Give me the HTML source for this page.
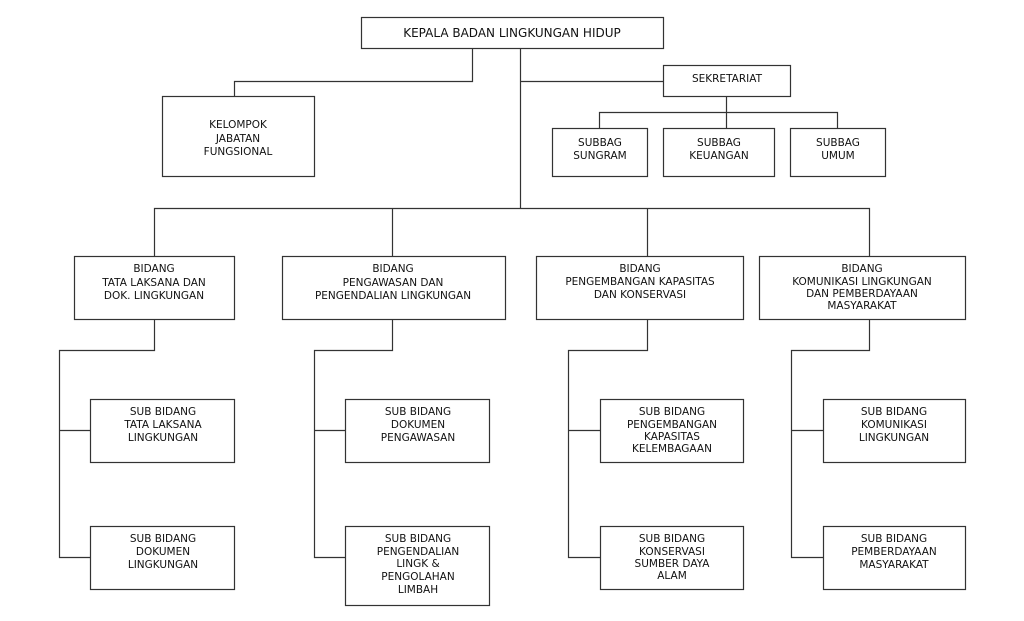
<!DOCTYPE html>
<html><head><style>
html,body{margin:0;padding:0;background:#fff;}
svg{display:block;}
text{font-family:"DejaVu Sans","Liberation Sans",sans-serif;font-size:10.5px;fill:#111;text-anchor:middle;}
.big{font-size:12px;}
</style></head><body>
<svg width="1024" height="621" viewBox="0 0 1024 621">
<g fill="#fff" stroke="#333" stroke-width="1.2">
<rect x="361.5" y="17.5" width="302" height="31"/>
<rect x="162.5" y="96.5" width="152" height="80"/>
<rect x="663.5" y="65.5" width="127" height="31"/>
<rect x="552.5" y="128.5" width="95" height="48"/>
<rect x="663.5" y="128.5" width="111" height="48"/>
<rect x="790.5" y="128.5" width="95" height="48"/>
<rect x="74.5" y="256.5" width="160" height="63"/>
<rect x="282.5" y="256.5" width="223" height="63"/>
<rect x="536.5" y="256.5" width="207" height="63"/>
<rect x="759.5" y="256.5" width="206" height="63"/>
<rect x="90.5" y="399.5" width="144" height="63"/>
<rect x="90.5" y="526.5" width="144" height="63"/>
<rect x="345.5" y="399.5" width="144" height="63"/>
<rect x="345.5" y="526.5" width="144" height="79"/>
<rect x="600.5" y="399.5" width="143" height="63"/>
<rect x="600.5" y="526.5" width="143" height="63"/>
<rect x="823.5" y="399.5" width="142" height="63"/>
<rect x="823.5" y="526.5" width="142" height="63"/>
</g>
<g fill="none" stroke="#333" stroke-width="1.2">
<path d="M472.5 48V81.5H234.5V96"/>
<path d="M520.5 48V208"/>
<path d="M520.5 81.5H663"/>
<path d="M726.5 96V112.5M599.5 128V112.5H837.5V128M726.5 112.5V128"/>
<path d="M154.5 256V208.5H869.5V256M392.5 208.5V256M647.5 208.5V256"/>
<path d="M154.5 320V350.5H59.5V557.5H90M59.5 430.5H90"/>
<path d="M392.5 320V350.5H314.5V557.5H345M314.5 430.5H345"/>
<path d="M647.5 320V350.5H568.5V557.5H600M568.5 430.5H600"/>
<path d="M869.5 320V350.5H791.5V557.5H823M791.5 430.5H823"/>
</g>
<text class="big" x="512" y="37">KEPALA BADAN LINGKUNGAN HIDUP</text>
<text x="238" y="128">KELOMPOK</text><text x="238" y="142">JABATAN</text><text x="238" y="155">FUNGSIONAL</text>
<text x="727" y="82">SEKRETARIAT</text>
<text x="600" y="146">SUBBAG</text><text x="600" y="159">SUNGRAM</text>
<text x="719" y="146">SUBBAG</text><text x="719" y="159">KEUANGAN</text>
<text x="838" y="146">SUBBAG</text><text x="838" y="159">UMUM</text>
<text x="154" y="272">BIDANG</text><text x="154" y="286">TATA LAKSANA DAN</text><text x="154" y="299">DOK. LINGKUNGAN</text>
<text x="393" y="272">BIDANG</text><text x="393" y="286">PENGAWASAN DAN</text><text x="393" y="299">PENGENDALIAN LINGKUNGAN</text>
<text x="640" y="272">BIDANG</text><text x="640" y="285">PENGEMBANGAN KAPASITAS</text><text x="640" y="298">DAN KONSERVASI</text>
<text x="862" y="272">BIDANG</text><text x="862" y="285">KOMUNIKASI LINGKUNGAN</text><text x="862" y="297">DAN PEMBERDAYAAN</text><text x="862" y="309">MASYARAKAT</text>
<text x="163" y="415">SUB BIDANG</text><text x="163" y="428">TATA LAKSANA</text><text x="163" y="441">LINGKUNGAN</text>
<text x="163" y="542">SUB BIDANG</text><text x="163" y="555">DOKUMEN</text><text x="163" y="568">LINGKUNGAN</text>
<text x="418" y="415">SUB BIDANG</text><text x="418" y="428">DOKUMEN</text><text x="418" y="441">PENGAWASAN</text>
<text x="418" y="542">SUB BIDANG</text><text x="418" y="555">PENGENDALIAN</text><text x="418" y="567">LINGK &amp;</text><text x="418" y="580">PENGOLAHAN</text><text x="418" y="593">LIMBAH</text>
<text x="672" y="415">SUB BIDANG</text><text x="672" y="428">PENGEMBANGAN</text><text x="672" y="440">KAPASITAS</text><text x="672" y="452">KELEMBAGAAN</text>
<text x="672" y="542">SUB BIDANG</text><text x="672" y="555">KONSERVASI</text><text x="672" y="567">SUMBER DAYA</text><text x="672" y="579">ALAM</text>
<text x="894" y="415">SUB BIDANG</text><text x="894" y="428">KOMUNIKASI</text><text x="894" y="441">LINGKUNGAN</text>
<text x="894" y="542">SUB BIDANG</text><text x="894" y="555">PEMBERDAYAAN</text><text x="894" y="568">MASYARAKAT</text>
</svg>
</body></html>
